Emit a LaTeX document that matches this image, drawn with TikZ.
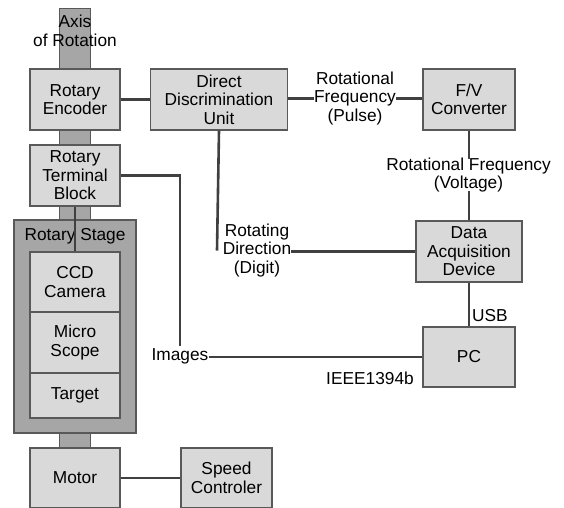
\documentclass[tikz,border=0pt]{standalone}
\usepackage{fontspec}
\setmainfont{Liberation Sans}
\begin{document}
\begin{tikzpicture}[x=1pt,y=-1pt,
  font=\fontsize{17.3}{18.5}\selectfont,
  box/.style={draw=black!65, line width=1.4pt, fill=black!15, inner sep=0pt, align=center},
  shaft/.style={draw=black!65, line width=1pt, fill=black!35},
  wire/.style={draw=black!75, line width=2.6pt},
  lbl/.style={inner sep=1pt, align=center}]
\useasboundingbox (0,0) rectangle (564,507);
\clip (0,0) rectangle (564,507);

% rotation shaft pieces
\draw[shaft] (59,8) rectangle (90,70);
\draw[shaft] (59,130) rectangle (90,145);
\draw[shaft] (59,206) rectangle (90,220);
\draw[shaft] (59,433) rectangle (90,448);
\node[lbl] (axis) at (75,31) {Axis\\of Rotation};

% rotary stage housing
\draw[shaft, line width=1.4pt] (14,220) rectangle (136,433);
\node[lbl] (stage) at (75,236) {Rotary Stage};

% blocks
\node[box, minimum width=90pt, minimum height=61pt] (enc) at (75,99.5) {Rotary\\Encoder};
\node[box, minimum width=137pt, minimum height=61pt] (ddu) at (219,99.5) {Direct\\Discrimination\\Unit};
\node[box, minimum width=92pt, minimum height=61pt] (fv) at (469,99.5) {F/V\\Converter};
\node[box, minimum width=90pt, minimum height=61pt] (rtb) at (75,175.5) {Rotary\\Terminal\\Block};
\node[box, minimum width=90pt, minimum height=60pt] (ccd) at (75,282) {CCD\\Camera};
\node[box, minimum width=90pt, minimum height=61pt] (micro) at (75,342.5) {Micro\\Scope};
\node[box, minimum width=90pt, minimum height=45pt] (target) at (75,395.5) {Target};
\node[box, minimum width=106pt, minimum height=61pt] (daq) at (469,251.5) {Data\\Acquisition\\Device};
\node[box, minimum width=92pt, minimum height=60pt] (pc) at (469,357) {PC};
\node[box, minimum width=90pt, minimum height=60pt] (motor) at (75,478) {Motor};
\node[box, minimum width=91pt, minimum height=60pt] (speed) at (226.5,478) {Speed\\Controler};

% signal labels
\node[lbl, inner sep=0pt] (pulse) at (355,98.5) {Rotational\\Frequency\\(Pulse)};
\node[lbl, inner sep=0pt] (volt) at (468.5,175) {Rotational Frequency\\(Voltage)};
\node[lbl, inner sep=0pt] (dir) at (257,250.5) {Rotating\\Direction\\(Digit)};
\node[lbl, inner sep=0pt] (img) at (180,356) {Images};
\node[lbl] (ieee) at (370,378) {IEEE1394b};
\node[lbl, anchor=west] (usb) at (471,316) {USB};

% connectors
\draw[wire] (enc.east) -- (ddu.west);
\draw[wire] (ddu.east |- pulse.west) -- (pulse.west);
\draw[wire] (pulse.east) -- (fv.west |- pulse.east);
\draw[wire] (fv.south) -- ([yshift=-2pt]volt.north -| fv.south);
\draw[wire] ([yshift=2pt]volt.south -| daq.north) -- (daq.north);
\draw[wire] (ddu.south) -- ([xshift=-2pt]ddu.south |- dir.west);
\draw[wire] (dir.east |- daq.west) -- (daq.west);
\draw[wire] (daq.south) -- (pc.north);
\draw[wire] (rtb.east) -| ([yshift=2pt]img.north);
\draw[wire] (img.east |- pc.west) -- (pc.west);
\draw[wire] (rtb.south) -- (ccd.north);
\draw[wire] (motor.east) -- (speed.west);
\end{tikzpicture}
\end{document}
